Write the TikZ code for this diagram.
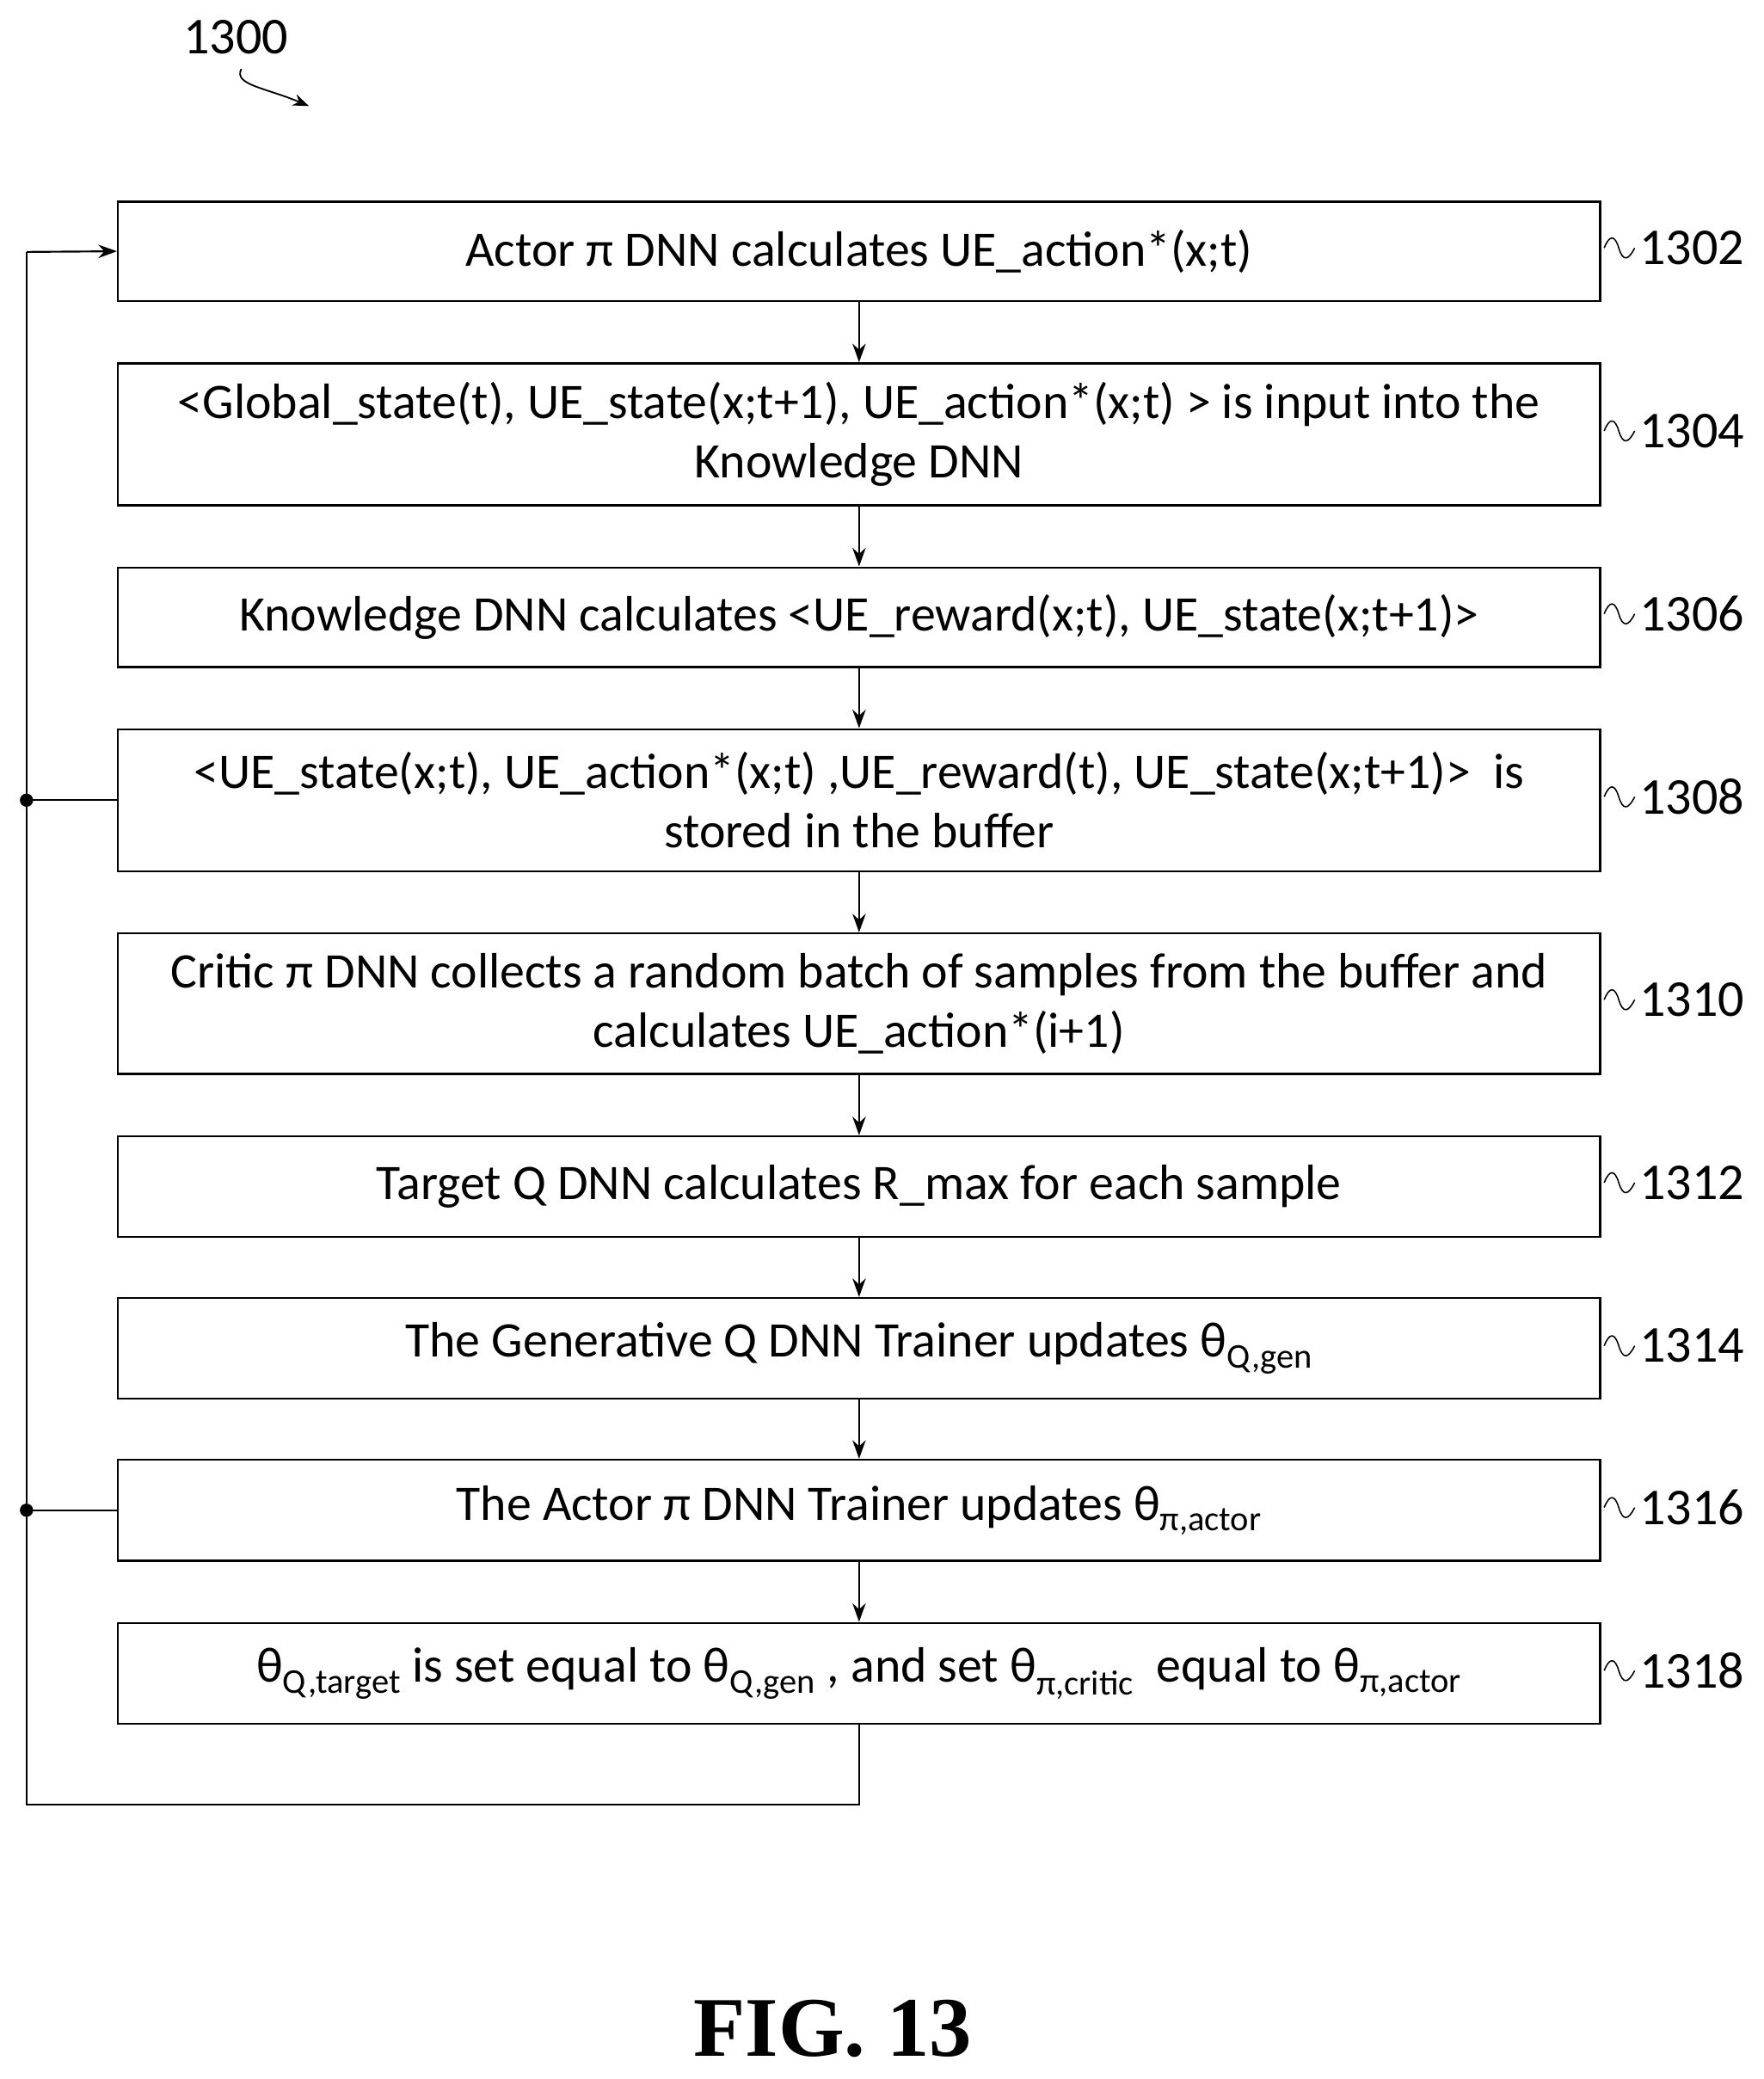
\documentclass[tikz,border=0pt]{standalone}
\usetikzlibrary{arrows.meta}
\usepackage{fontspec}
\setmainfont{Carlito}
\newfontfamily\figfont{Liberation Serif}
\begin{document}
\begin{tikzpicture}[x=1pt,y=-1pt,
  box/.style={draw,line width=1.6pt,minimum width=1118pt,inner sep=0pt,align=center,font=\fontsize{37.5}{45}\selectfont},
  lab/.style={font=\fontsize{39}{40}\selectfont,anchor=west},
  arr/.style={-{Stealth[length=14pt,width=10pt]},line width=1.4pt},
  ln/.style={line width=1.4pt}]
\useasboundingbox (0,0) rectangle (1330,1568);
\node[box,minimum height=75pt] (b1) at (648,189.5) {Actor π DNN calculates UE\_action*(x;t)};
\node[box,minimum height=107pt] (b2) at (648,327.5) {<Global\_state(t), UE\_state(x;t+1), UE\_action*(x;t) > is input into the\\Knowledge DNN};
\node[box,minimum height=75pt] (b3) at (648,465.5) {Knowledge DNN calculates <UE\_reward(x;t), UE\_state(x;t+1)>};
\node[box,minimum height=107pt] (b4) at (648,603.5) {<UE\_state(x;t), UE\_action*(x;t) ,UE\_reward(t), UE\_state(x;t+1)>~ is\\stored in the buffer};
\node[box,minimum height=106pt] (b5) at (648,757) {Critic π DNN collects a random batch of samples from the buffer and\\calculates UE\_action*(i+1)};
\node[box,minimum height=76pt] (b6) at (648,895) {Target Q DNN calculates R\_max for each sample};
\node[box,minimum height=76pt] (b7) at (648,1017) {The Generative Q DNN Trainer updates θ\textsubscript{Q,gen}};
\node[box,minimum height=76pt] (b8) at (648,1139) {The Actor π DNN Trainer updates θ\textsubscript{π,actor}};
\node[box,minimum height=76pt] (b9) at (648,1262) {θ\textsubscript{Q,target} is set equal to θ\textsubscript{Q,gen} , and set θ\textsubscript{π,critic}~ equal to θ\textsubscript{π,actor}};
\foreach \a/\b in {b1/b2,b2/b3,b3/b4,b4/b5,b5/b6,b6/b7,b7/b8,b8/b9}
  \draw[arr] (\a.south) -- (\b.north);
\foreach \n/\t/\y in {b1/1302/187,b2/1304/325,b3/1306/463,b4/1308/601,b5/1310/754,b6/1312/892,b7/1314/1015,b8/1316/1137,b9/1318/1260}{
  \draw[line width=1pt] (1210,\y) .. controls (1214,\y-10) and (1218,\y-10) .. (1221,\y) .. controls (1224,\y+10) and (1228,\y+10) .. (1233,\y);
  \node[lab] (l\t) at (1233,\y) {\t};
}
\coordinate (c1) at (648,1361);
\coordinate (c2) at (20,1361);
\coordinate (c3) at (20,190);
\draw[ln] (b9.south) -- (c1) -- (c2) -- (c3);
\draw[arr] (c3) -- (b1.west);
\coordinate (d1) at (20,603.5);
\coordinate (d2) at (20,1139);
\draw[ln] (d1) -- (b4.west);
\draw[ln] (d2) -- (b8.west);
\fill (d1) circle (5pt);
\fill (d2) circle (5pt);
\node[font=\fontsize{39}{40}\selectfont] (t1300) at (178,28) {1300};
\coordinate (a1300) at (233,80);
\draw[-{Stealth[length=12pt,width=9pt]},line width=1.2pt] (182,52) .. controls (176,64) and (200,66) .. (a1300);
\node[font=\fontsize{64}{64}\selectfont\figfont\bfseries] (fig) at (628,1530) {FIG. 13};
\end{tikzpicture}
\end{document}
